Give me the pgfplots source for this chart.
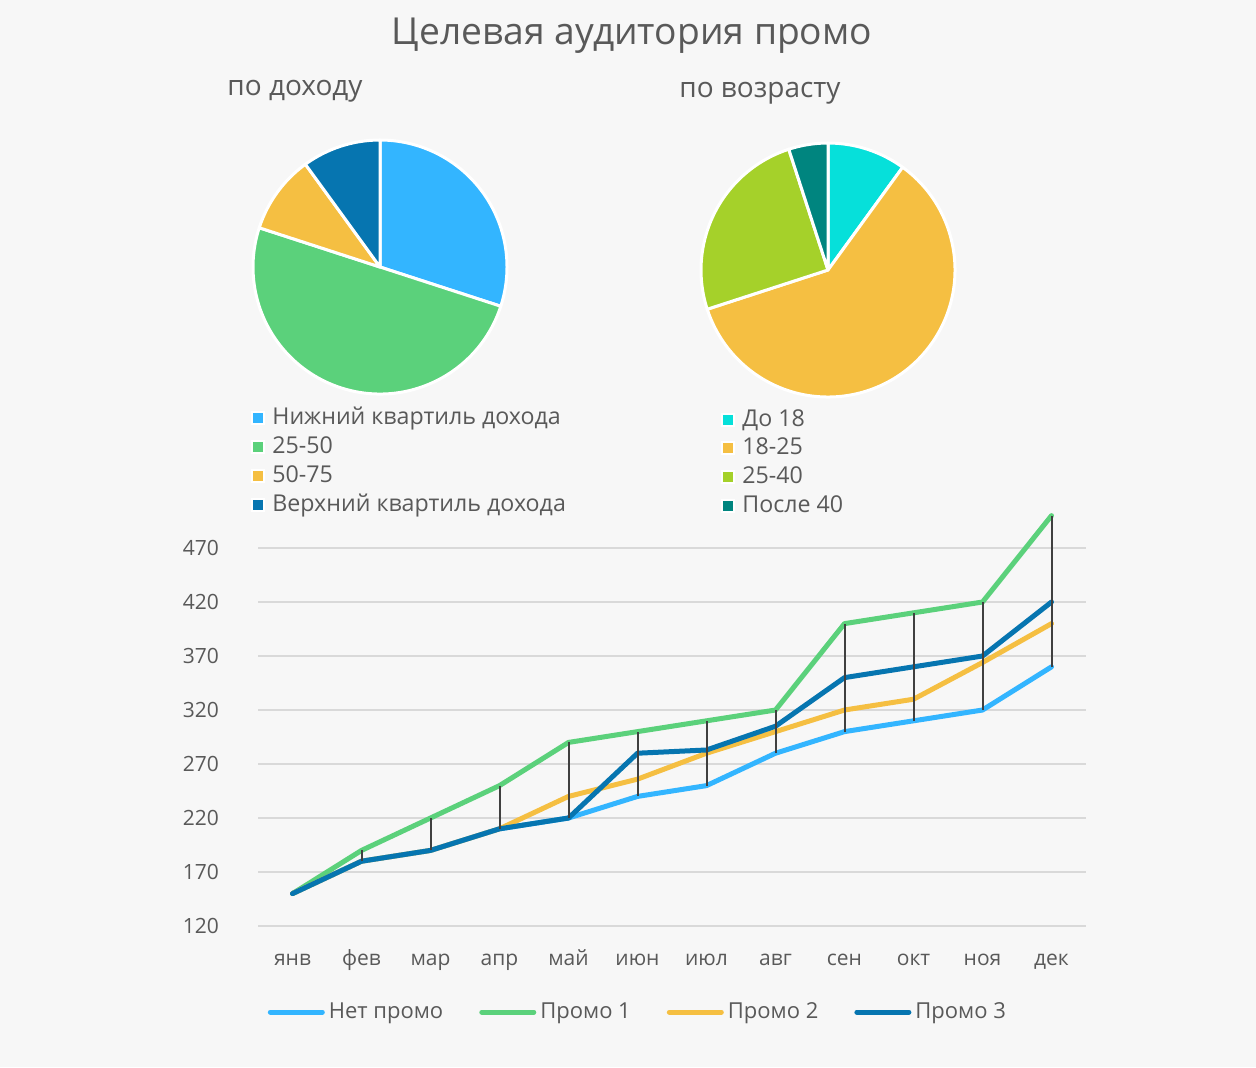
\documentclass[border=0pt]{standalone}
\usepackage{pgfplots}
\pgfplotsset{compat=1.18}
\usepackage{fontspec}
\setmainfont{Open Sans}

\definecolor{bg}{HTML}{F7F7F7}
\definecolor{txt}{HTML}{595959}
\definecolor{grid}{HTML}{D9D9D9}
\definecolor{drop}{HTML}{404040}
\definecolor{cLblue}{HTML}{33B5FF}
\definecolor{cGreen}{HTML}{5BD17B}
\definecolor{cYellow}{HTML}{F5BF42}
\definecolor{cDblue}{HTML}{0675B0}
\definecolor{cCyan}{HTML}{06E0DA}
\definecolor{cLime}{HTML}{A5D12A}
\definecolor{cTeal}{HTML}{00857F}

% draws one pie, slices clockwise from 12 o'clock
\newcommand{\pie}[2]{%
  \gdef\astart{90}%
  \foreach \p/\c in {#2}{%
    \pgfmathsetmacro\aend{\astart-3.6*\p}%
    \fill[\c, draw=white, line width=1.5pt, line join=round]
      (#1) -- ++(\astart:63.5pt) arc[start angle=\astart, end angle=\aend, radius=63.5pt] -- cycle;
    \xdef\astart{\aend}%
  }%
}

\begin{document}
\begin{tikzpicture}[px/.style={x=0.5pt,y=-0.5pt}]
\begin{scope}[px]
  \fill[bg] (0,0) rectangle (1256,1067);
  \node[text=txt, font=\fontsize{18.6}{21}\selectfont] at (632,36) {Целевая аудитория промо};
  \node[text=txt, font=\fontsize{14}{16}\selectfont] at (295,91) {по доходу};
  \node[text=txt, font=\fontsize{14}{16}\selectfont] at (760,93) {по возрасту};

  % income: lower quartile, 25-50, 50-75, upper quartile (%)
  \pie{380,267}{30/cLblue, 50/cGreen, 10/cYellow, 10/cDblue}
  % age: up to 18, 18-25, 25-40, over 40 (%)
  \pie{828,270}{10/cCyan, 60/cYellow, 25/cLime, 5/cTeal}

  \foreach \y/\c/\t in {418/cLblue/Нижний квартиль дохода, 447/cGreen/25-50,
                         476/cYellow/50-75, 505/cDblue/Верхний квартиль дохода}{
    \fill[\c, draw=white, line width=1pt] (252,\y-6) rectangle (264,\y+6);
    \node[anchor=west, inner sep=0pt, text=txt, font=\fontsize{11.6}{13}\selectfont,
          text height=1.6ex, text depth=0.3ex] at (272,\y) {\t};
  }
  \foreach \y/\c/\t in {420/cCyan/До 18, 448/cYellow/18-25,
                         477/cLime/25-40, 506/cTeal/После 40}{
    \fill[\c, draw=white, line width=1pt] (722,\y-6) rectangle (734,\y+6);
    \node[anchor=west, inner sep=0pt, text=txt, font=\fontsize{11.6}{13}\selectfont,
          text height=1.6ex, text depth=0.3ex] at (742,\y) {\t};
  }
\end{scope}

\begin{axis}[
  at={(129pt,-463pt)}, anchor=south west,
  scale only axis, width=414pt, height=207.9pt,
  xmin=0.5, xmax=12.5, ymin=120, ymax=505,
  xtick={1,...,12},
  xticklabels={янв,фев,мар,апр,май,июн,июл,авг,сен,окт,ноя,дек},
  ytick={120,170,...,470},
  ymajorgrids, major grid style={draw=grid, line width=1pt},
  axis line style={draw=none}, major tick length=0pt,
  tick label style={font=\fontsize{10.5}{12}\selectfont, text=txt},
  xticklabel style={yshift=-8pt, text height=1.5ex, text depth=0.25ex},
  yticklabel style={xshift=-16pt},
  /pgf/number format/assume math mode=true,
  clip=false,
  legend columns=4,
  legend style={draw=none, fill=none, at={(0.46,-0.207)}, anchor=center,
    font=\fontsize{11}{13}\selectfont, text=txt,
    /tikz/every even column/.append style={column sep=16pt}},
  legend image code/.code={\draw[#1, line width=2.5pt, line cap=round] (0pt,0pt) -- (26pt,0pt);},
  every axis plot/.append style={line width=2.5pt, line join=round, line cap=round, mark=none},
]
\addplot[cLblue] coordinates {
  (1,150)(2,180)(3,190)(4,210)(5,220)(6,240)(7,250)(8,280)(9,300)(10,310)(11,320)(12,360)};
\addplot[cGreen] coordinates {
  (1,150)(2,190)(3,220)(4,250)(5,290)(6,300)(7,310)(8,320)(9,400)(10,410)(11,420)(12,500)};
\addplot[cYellow] coordinates {
  (1,150)(2,180)(3,190)(4,210)(5,240)(6,256)(7,280)(8,300)(9,320)(10,330)(11,364)(12,400)};
\addplot[cDblue] coordinates {
  (1,150)(2,180)(3,190)(4,210)(5,220)(6,280)(7,283)(8,305)(9,350)(10,360)(11,370)(12,420)};
% high-low lines: min to max of the four series per month
\addplot[drop, line width=1pt, line cap=butt, unbounded coords=jump, forget plot] coordinates {
  (2,180)(2,190)(2,nan)
  (3,190)(3,220)(3,nan)
  (4,210)(4,250)(4,nan)
  (5,220)(5,290)(5,nan)
  (6,240)(6,300)(6,nan)
  (7,250)(7,310)(7,nan)
  (8,280)(8,320)(8,nan)
  (9,300)(9,400)(9,nan)
  (10,310)(10,410)(10,nan)
  (11,320)(11,420)(11,nan)
  (12,360)(12,500)};
\legend{Нет промо, Промо 1, Промо 2, Промо 3}
\end{axis}
\end{tikzpicture}
\end{document}
